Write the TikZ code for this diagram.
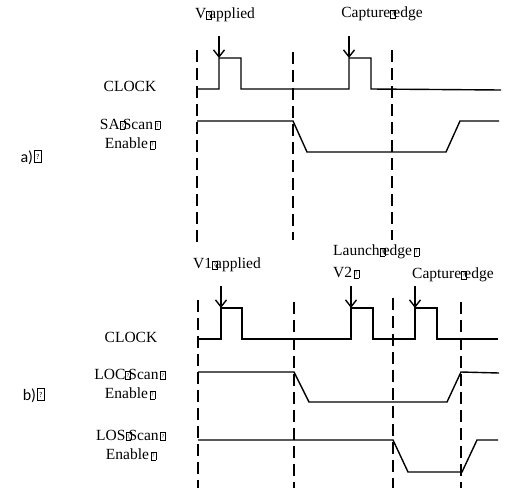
\documentclass[tikz,border=0pt]{standalone}
\usepackage{fontspec}
\setmainfont{Liberation Serif}
\newfontfamily\sansf{Carlito}
\usetikzlibrary{arrows.meta}
\newcommand\qbx{{\setlength{\fboxsep}{0pt}\setlength{\fboxrule}{0.45pt}\fbox{\parbox[b][7.5pt][c]{4.6pt}{\centering\fontsize{5.5}{5.5}\selectfont ?}}}}
\newcommand\qbig{{\setlength{\fboxsep}{0pt}\setlength{\fboxrule}{0.6pt}\fbox{\parbox[b][11pt][c]{6.5pt}{\centering\fontsize{7.5}{7.5}\selectfont ?}}}}
\newcommand\qb{\makebox[0.2em][l]{\qbx}}
\newcommand\qe{\hspace{0.1em}\qbx}
\begin{document}
\begin{tikzpicture}[x=1pt,y=-1pt,
  sig/.style={line width=1.4pt, line join=miter},
  dsh/.style={line width=1.4pt, dash pattern=on 12pt off 6pt},
  arr/.style={line width=1.4pt,-{Straight Barb[length=7pt,width=11pt]}},
  lbl/.style={font=\fontsize{15.5}{19.5}\selectfont, inner sep=0pt, align=center},
  part/.style={font=\sansf\fontsize{16}{18}\selectfont, inner sep=0pt}]
\useasboundingbox (0,0) rectangle (521,490);
% ---------- part a ----------
\node[part,anchor=base east] (pa) at (42,162) {a)\hspace{1pt}\qbig};
\node[lbl] (ca) at (130,86) {CLOCK};
\node[lbl] (sa) at (130,134) {SA\qb Scan\qe\\Enable\qe};
\node[lbl] (va) at (225,15) {V\qb applied};
\node[lbl] (cea) at (382,14) {Capture\qb edge};
\draw[dsh] (197,50) -- (197,244);
\draw[dsh] (293,52) -- (293,240);
\draw[dsh] (392,50) -- (392,240);
\draw[sig] (197,89) -- (219,89) -- (219,58) -- (241,58) -- (241,89) -- (349,89) -- (349,58) -- (371,58) -- (371,89) -- (501,90);
\draw[sig] (197,121) -- (293,121) -- (307,152) -- (446,152) -- (460,121) -- (499,121);
\coordinate (a1s) at (219,36); \coordinate (a1e) at (219,58);
\coordinate (a2s) at (349,36); \coordinate (a2e) at (349,58);
\draw[arr] (a1s) -- (a1e);
\draw[arr] (a2s) -- (a2e);
% ---------- part b ----------
\node[part,anchor=base east] (pb) at (45,400) {b)\hspace{1pt}\qbig};
\node[lbl] (cb) at (131,337) {CLOCK};
\node[lbl] (lc) at (130,384) {LOC\qb Scan\qe\\Enable\qe};
\node[lbl] (ls) at (131,445) {LOS\qb Scan\qe\\Enable\qe};
\node[lbl] (v1) at (227,265) {V1\qb applied};
\node[lbl,anchor=west] (le) at (333,252) {Launch\qb edge\qe};
\node[lbl,anchor=west] (v2) at (333,273) {V2\qe};
\node[lbl,anchor=west] (ceb) at (412,275) {Capture\qb edge};
\draw[dsh] (198,300) -- (198,488);
\draw[dsh] (294,302) -- (294,488);
\draw[dsh] (393,298) -- (393,488);
\draw[dsh] (461,302) -- (461,488);
\draw[sig] (198,339) -- (221,339) -- (221,308) -- (242,308) -- (242,339) -- (351,339) -- (351,308) -- (373,308) -- (373,339) -- (415,339) -- (415,308) -- (437,308) -- (437,339) -- (498,339);
\draw[sig] (198,372) -- (294,372) -- (309,402) -- (447,402) -- (461,372) -- (499,373);
\draw[sig] (198,440) -- (393,440) -- (408,472) -- (462,472) -- (477,440) -- (498,440);
\coordinate (b1s) at (221,286); \coordinate (b1e) at (221,308);
\coordinate (b2s) at (351,286); \coordinate (b2e) at (351,308);
\coordinate (b3s) at (415,286); \coordinate (b3e) at (415,308);
\draw[arr] (b1s) -- (b1e);
\draw[arr] (b2s) -- (b2e);
\draw[arr] (b3s) -- (b3e);
\end{tikzpicture}
\end{document}
